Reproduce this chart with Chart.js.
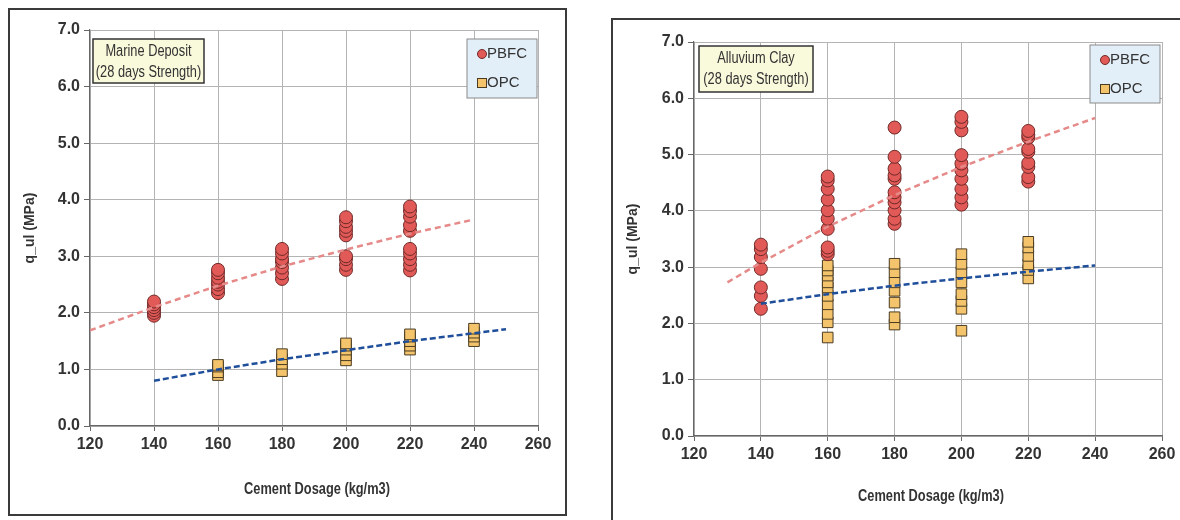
<!DOCTYPE html>
<html>
<head>
<meta charset="utf-8">
<script src="https://cdn.jsdelivr.net/npm/chart.js@4.4.0/dist/chart.umd.min.js"></script>
<style>
  html, body { margin: 0; padding: 0; background: #fff; }
  body { width: 1180px; height: 520px; position: relative; overflow: hidden; }
  .frame { position: absolute; border: 2px solid #3a3a3a; box-sizing: border-box; }
  #frame1 { left: 8px; top: 8px; width: 559px; height: 508px; }
  #frame2 { left: 611px; top: 18px; width: 620px; height: 560px; }
  .holder { position: absolute; }
  #holder1 { left: 10px; top: 10px; width: 555px; height: 504px; }
  #holder2 { left: 613px; top: 20px; width: 567px; height: 500px; }
</style>
</head>
<body>
<div class="frame" id="frame1"></div>
<div class="frame" id="frame2"></div>
<div class="holder" id="holder1"><canvas id="marine"></canvas></div>
<div class="holder" id="holder2"><canvas id="alluvium"></canvas></div>
<script>
// Cement dosage groups (kg/m3)
var dosages = [140, 160, 180, 200, 220];
var opcDosagesMarine = [160, 180, 200, 220, 240];
var opcDosagesAlluvium = [160, 180, 200, 220];

// Marine Deposit, q_ul (MPa) per dosage
var marinePbfc = [
    [1.95, 2.0, 2.05, 2.1, 2.15, 2.2],
    [2.35, 2.42, 2.5, 2.55, 2.62, 2.7, 2.76],
    [2.6, 2.7, 2.8, 2.9, 2.95, 3.05, 3.13],
    [2.76, 2.85, 2.95, 3.0, 3.37, 3.45, 3.52, 3.62, 3.69],
    [2.75, 2.85, 2.95, 3.05, 3.13, 3.45, 3.55, 3.7, 3.8, 3.88]
];
var marineOpc = [
    [0.9, 0.95, 1.05, 1.08],
    [0.97, 1.1, 1.18, 1.27],
    [1.16, 1.25, 1.35, 1.42, 1.46],
    [1.35, 1.42, 1.5, 1.58, 1.62],
    [1.5, 1.58, 1.65, 1.72]
];
var marinePbfcTrendX = [120, 140, 160, 180, 200, 220, 240];
var marinePbfcTrendY = [1.69, 2.1, 2.48, 2.82, 3.12, 3.4, 3.65];
var marineOpcTrendX = [140, 160, 180, 200, 220, 240, 250];
var marineOpcTrendY = [0.8, 1.0, 1.18, 1.34, 1.5, 1.64, 1.71];

// Alluvium Clay, q_ul (MPa) per dosage
var alluviumPbfc = [
    [2.26, 2.49, 2.64, 2.97, 3.18, 3.32, 3.4],
    [3.23, 3.29, 3.35, 3.68, 3.86, 4.01, 4.2, 4.39, 4.54, 4.61],
    [3.77, 3.86, 4.01, 4.15, 4.24, 4.33, 4.57, 4.63, 4.75, 4.96, 5.48],
    [4.11, 4.24, 4.39, 4.57, 4.72, 4.84, 4.99, 5.43, 5.58, 5.67],
    [4.52, 4.6, 4.78, 4.85, 5.05, 5.1, 5.3, 5.35, 5.42]
];
var alluviumOpc = [
    [1.75, 2.02, 2.17, 2.34, 2.49, 2.64, 2.73, 2.85, 2.94, 3.03],
    [1.98, 2.11, 2.37, 2.58, 2.73, 2.91, 3.06],
    [1.87, 2.26, 2.4, 2.52, 2.73, 2.91, 3.06, 3.23],
    [2.8, 2.95, 3.05, 3.2, 3.35, 3.45]
];
var alluviumPbfcTrendX = [130, 140, 160, 180, 200, 220, 240];
var alluviumPbfcTrendY = [2.73, 3.08, 3.72, 4.28, 4.78, 5.23, 5.65];
var alluviumOpcTrendX = [140, 160, 180, 200, 220, 240];
var alluviumOpcTrendY = [2.35, 2.52, 2.67, 2.8, 2.92, 3.03];

var xTicks = [120, 140, 160, 180, 200, 220, 240, 260];
var yTicks = [0, 1, 2, 3, 4, 5, 6, 7];


function toPoints(groups, xs) {
    var pts = [];
    groups.forEach(function (vals, i) {
        vals.forEach(function (v) { pts.push({x: xs[i], y: v}); });
    });
    return pts;
}

function toLine(xs, ys) {
    return xs.map(function (x, i) { return {x: x, y: ys[i]}; });
}

var RED = "#e15a58", RED_EDGE = "#6e2a28";
var GOLD = "#f3c46c", GOLD_EDGE = "#4a3b22";
var FONT = "'Liberation Sans', Arial, sans-serif";

// narrow-looking text: squeeze horizontally
function narrowText(ctx, text, x, y, squeeze) {
    ctx.save();
    ctx.translate(x, y);
    ctx.scale(squeeze, 1);
    ctx.fillText(text, 0, 0);
    ctx.restore();
}

// note box, legend and x title drawn over the chart
var boxesPlugin = {
    id: "boxes",
    afterDraw: function (chart, args, o) {
        var ctx = chart.ctx, a = chart.chartArea;
        ctx.save();

        // x axis title
        ctx.fillStyle = "#333";
        ctx.font = "bold 16px " + FONT;
        ctx.textAlign = "center";
        ctx.textBaseline = "middle";
        narrowText(ctx, "Cement Dosage (kg/m3)", (a.left + a.right) / 2 + 3, a.bottom + o.titleDy, 0.8);

        // note
        var nx = a.left + o.note[0], ny = a.top + o.note[1];
        ctx.fillStyle = "#f9f9dc";
        ctx.fillRect(nx, ny, o.note[2], o.note[3]);
        ctx.strokeStyle = "#333";
        ctx.lineWidth = 1.5;
        ctx.strokeRect(nx, ny, o.note[2], o.note[3]);
        ctx.fillStyle = "#333";
        ctx.font = "16px " + FONT;
        narrowText(ctx, o.lines[0], nx + o.note[2] / 2, ny + 13, 0.8);
        narrowText(ctx, o.lines[1], nx + o.note[2] / 2, ny + 34, 0.8);

        // legend
        var lx = a.right - o.legend[0], ly = a.top + o.legend[1];
        var lw = o.legend[2], lh = o.legend[3];
        ctx.fillStyle = "#e3eff8";
        ctx.fillRect(lx, ly, lw, lh);
        ctx.strokeStyle = "#8a8a8a";
        ctx.lineWidth = 1;
        ctx.strokeRect(lx, ly, lw, lh);

        ctx.fillStyle = RED;
        ctx.strokeStyle = RED_EDGE;
        ctx.beginPath();
        ctx.arc(lx + 15, ly + 15, 4.5, 0, Math.PI * 2);
        ctx.fill();
        ctx.stroke();
        ctx.fillStyle = GOLD;
        ctx.strokeStyle = GOLD_EDGE;
        ctx.fillRect(lx + 10.5, ly + 39.5, 9, 9);
        ctx.strokeRect(lx + 10.5, ly + 39.5, 9, 9);

        ctx.fillStyle = "#333";
        ctx.font = "15px " + FONT;
        ctx.textAlign = "left";
        ctx.fillText("PBFC", lx + 20, ly + 15);
        ctx.fillText("OPC", lx + 20, ly + 44);
        ctx.restore();
    }
};

function makeChart(id, cfg) {
    var ctx = document.getElementById(id).getContext("2d");
    return new Chart(ctx, {
        type: "scatter",
        data: {
            datasets: [{
                    label: "PBFC trend",
                    type: "line",
                    data: cfg.pbfcTrend,
                    borderColor: "#e58a88",
                    borderWidth: 2.5,
                    borderDash: [6, 4],
                    pointRadius: 0,
                    fill: false,
                    order: 0
                },
                {
                    label: "OPC trend",
                    type: "line",
                    data: cfg.opcTrend,
                    borderColor: "#1f4f9a",
                    borderWidth: 2.5,
                    borderDash: [6, 3],
                    pointRadius: 0,
                    fill: false,
                    order: 0
                },
                {
                    label: "PBFC",
                    data: cfg.pbfc,
                    pointStyle: "circle",
                    pointRadius: 6.5,
                    backgroundColor: RED,
                    borderColor: RED_EDGE,
                    borderWidth: 1,
                    order: 1
                },
                {
                    label: "OPC",
                    data: cfg.opc,
                    pointStyle: "rect",
                    pointRadius: 7.5,
                    backgroundColor: GOLD,
                    borderColor: GOLD_EDGE,
                    borderWidth: 1,
                    order: 1
                }
            ]
        },
        options: {
            responsive: true,
            maintainAspectRatio: false,
            animation: false,
            layout: {
                padding: {left: 0, top: cfg.top, right: cfg.right, bottom: 0}
            },
            plugins: {
                legend: {display: false},
                tooltip: {enabled: false},
                boxes: {note: cfg.note, lines: cfg.lines, legend: cfg.legend, titleDy: cfg.titleDy}
            },
            scales: {
                x: {
                    type: "linear",
                    min: xTicks[0],
                    max: xTicks[xTicks.length - 1],
                    afterBuildTicks: function (s) {
                        s.ticks = xTicks.map(function (v) { return {value: v}; });
                    },
                    afterFit: function (s) { s.height = cfg.xAxisH; },
                    grid: {color: "#b4b4b4", lineWidth: 1, tickLength: 5, tickColor: "#666"},
                    border: {color: "#666", width: 1.2},
                    ticks: {
                        color: "#333",
                        padding: 4,
                        font: {family: FONT, size: 16, weight: "bold"}
                    }
                },
                y: {
                    type: "linear",
                    min: yTicks[0],
                    max: yTicks[yTicks.length - 1],
                    afterBuildTicks: function (s) {
                        s.ticks = yTicks.map(function (v) { return {value: v}; });
                    },
                    afterFit: function (s) { s.width = cfg.yAxisW; },
                    grid: {color: "#b4b4b4", lineWidth: 1, tickLength: 6, tickColor: "#666"},
                    border: {color: "#666", width: 1.2},
                    ticks: {
                        color: "#333",
                        padding: 4,
                        font: {family: FONT, size: 16, weight: "bold"},
                        callback: function (v) { return v.toFixed(1); }
                    },
                    title: {
                        display: true,
                        text: "q_ul (MPa)",
                        color: "#333",
                        padding: {top: 12, bottom: 0},
                        font: {family: FONT, size: 14, weight: "bold"}
                    }
                }
            }
        },
        plugins: [boxesPlugin]
    });
}


// Marine Deposit
makeChart("marine", {
    pbfc: toPoints(marinePbfc, dosages),
    opc: toPoints(marineOpc, opcDosagesMarine),
    pbfcTrend: toLine(marinePbfcTrendX, marinePbfcTrendY),
    opcTrend: toLine(marineOpcTrendX, marineOpcTrendY),
    top: 20, right: 27, yAxisW: 80, xAxisH: 88, titleDy: 64,
    note: [3, 9, 111, 44],
    lines: ["Marine Deposit", "(28 days Strength)"],
    legend: [71, 9, 70, 59]
});

// Alluvium Clay
makeChart("alluvium", {
    pbfc: toPoints(alluviumPbfc, dosages),
    opc: toPoints(alluviumOpc, opcDosagesAlluvium),
    pbfcTrend: toLine(alluviumPbfcTrendX, alluviumPbfcTrendY),
    opcTrend: toLine(alluviumOpcTrendX, alluviumOpcTrendY),
    top: 22, right: 18, yAxisW: 81, xAxisH: 84, titleDy: 61,
    note: [5, 4, 114, 46],
    lines: ["Alluvium Clay", "(28 days Strength)"],
    legend: [72, 3, 70, 58]
});
</script>
</body>
</html>
